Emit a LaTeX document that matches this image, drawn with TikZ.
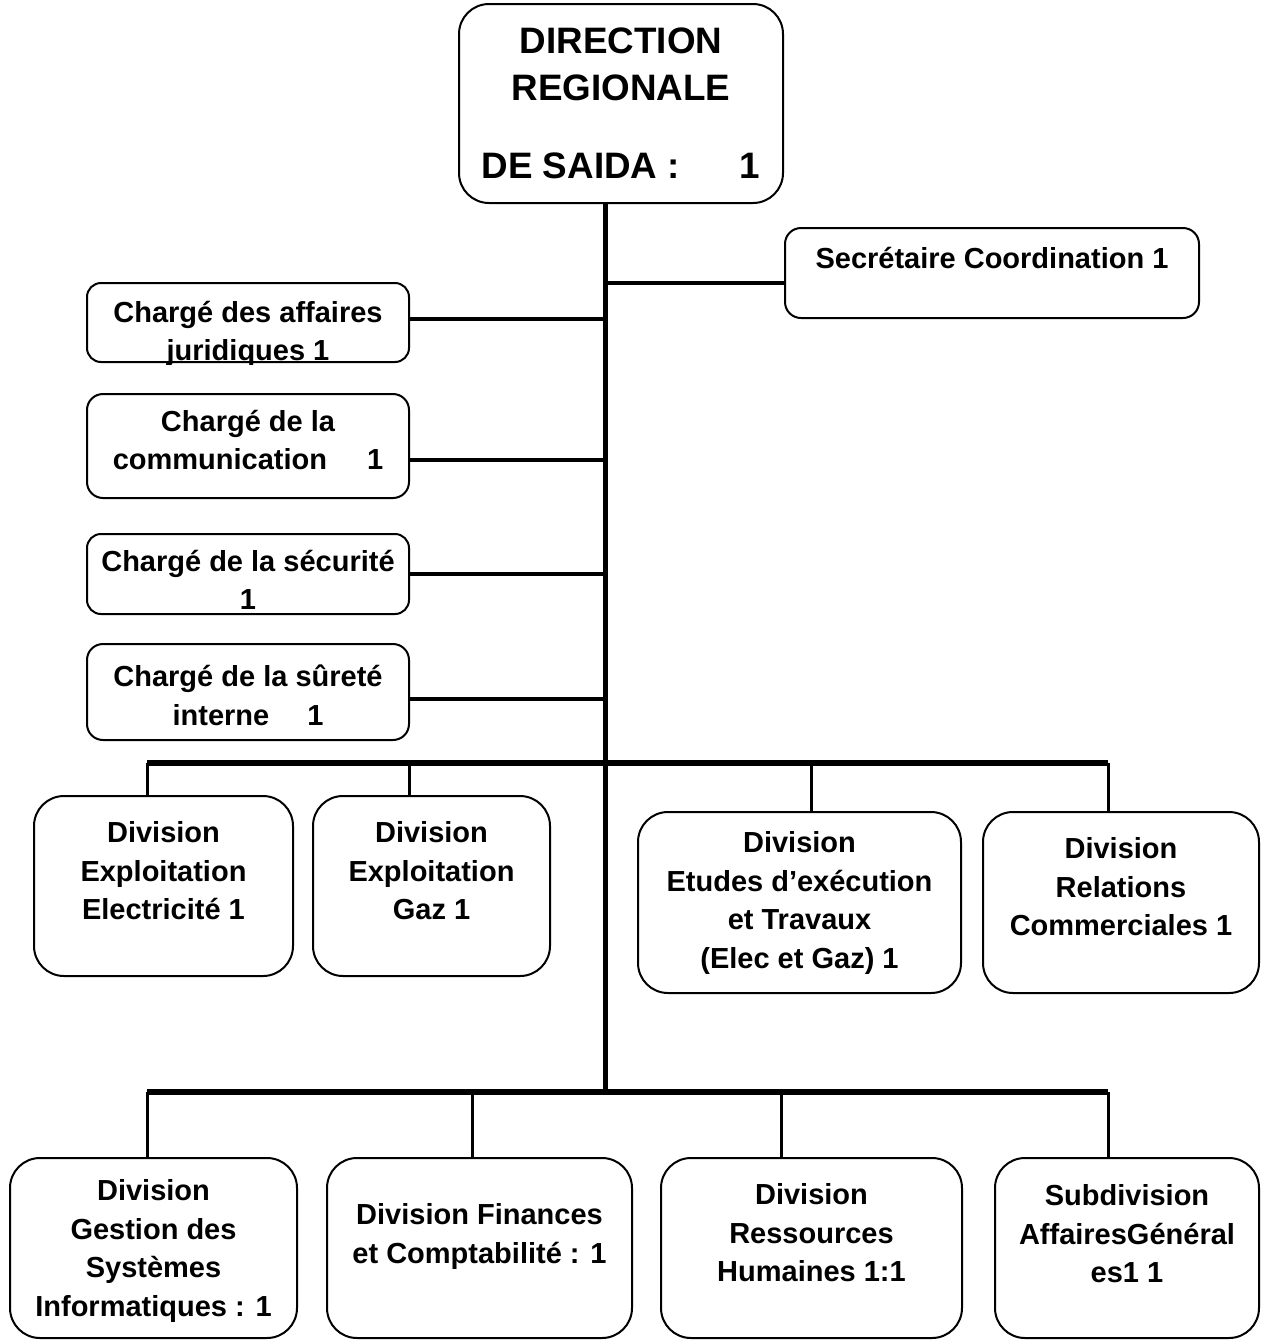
\documentclass[tikz,border=0pt]{standalone}
\usepackage{fontspec}
\setmainfont{Liberation Sans}
\begin{document}
\begin{tikzpicture}[x=0.5pt,y=-0.5pt,
  box/.style={draw, line width=1pt, rounded corners=#1, inner sep=0pt},
  box/.default=15pt,
  lbl/.style={font=\fontsize{14.5}{19.25}\selectfont\bfseries, align=center,
    inner sep=0pt, anchor=north, yshift=-3pt,
    execute at begin node=\strut, execute at end node=\strut},
  ttl/.style={font=\fontsize{18.4}{23.5}\selectfont\bfseries, align=center,
    inner sep=0pt, anchor=north, yshift=-3.5pt,
    execute at begin node=\strut, execute at end node=\strut},
  trunk/.style={line width=2.5pt},
  branch/.style={line width=2pt},
  bar/.style={line width=3pt},
  drop/.style={line width=1.5pt}]

\fill[white] (0,0) rectangle (1269,1340);
\useasboundingbox (0,0) rectangle (1269,1340);

% top of the chart
\node[box] (dir) at (621,103.5) [minimum width=162pt, minimum height=99.5pt] {};
\node[ttl] (tdir) at (621,20.3) {DIRECTION\\REGIONALE\\[15.5pt]DE SAIDA :\hspace{30pt}1};

% staff posts
\node[box=8pt] (sec) at (992,273) [minimum width=207pt, minimum height=45pt] {};
\node[lbl] (tsec) at (992,235.5) {Secrétaire Coordination 1};

\node[box=7pt] (jur) at (248,322.5) [minimum width=161pt, minimum height=39.5pt] {};
\begin{scope}
  \clip[rounded corners=7pt] ([shift={(0.5pt,-0.5pt)}]jur.south west) rectangle ([shift={(-0.5pt,0.5pt)}]jur.north east);
  \node[lbl] (tjur) at (248,294.5) {Chargé des affaires\\juridiques 1};
\end{scope}

\node[box=8pt] (com) at (248,446) [minimum width=161pt, minimum height=52pt] {};
\node[lbl] (tcom) at (248,403.5) {Chargé de la\\communication\hspace{20pt}1};

\node[box=7pt] (secu) at (248,574) [minimum width=161pt, minimum height=40pt] {};
\node[lbl] (tsecu) at (248,543.5) {Chargé de la sécurité\\1};

\node[box=8pt] (sur) at (248,692) [minimum width=161pt, minimum height=48pt] {};
\node[lbl] (tsur) at (248,658.5) {Chargé de la sûreté\\interne\hspace{19pt}1};

% first row of divisions
\node[box] (elec) at (163.5,886) [minimum width=129.5pt, minimum height=90pt] {};
\node[lbl] (telec) at (163.5,815.5) {Division\\Exploitation\\Electricité 1};

\node[box] (gaz) at (431.5,886) [minimum width=118.5pt, minimum height=90pt] {};
\node[lbl] (tgaz) at (431.5,815.5) {Division\\Exploitation\\Gaz 1};

\node[box] (etu) at (799.5,902.5) [minimum width=161.5pt, minimum height=90.5pt] {};
\node[lbl] (tetu) at (799.5,825.5) {Division\\Etudes d’exécution\\et Travaux\\(Elec et Gaz) 1};

\node[box] (rel) at (1121,902.5) [minimum width=138pt, minimum height=90.5pt] {};
\node[lbl] (trel) at (1121,831.5) {Division\\Relations\\Commerciales 1};

% second row of divisions
\node[box] (ges) at (153.5,1248) [minimum width=143.5pt, minimum height=90pt] {};
\node[lbl] (tges) at (153.5,1173.5) {Division\\Gestion des\\Systèmes\\Informatiques : 1};

\node[box] (fin) at (479.5,1248) [minimum width=152.5pt, minimum height=90pt] {};
\node[lbl] (tfin) at (479.5,1197.5) {Division Finances\\et Comptabilité : 1};

\node[box] (rh) at (811.5,1248) [minimum width=150.5pt, minimum height=90pt] {};
\node[lbl] (trh) at (811.5,1177.5) {Division\\Ressources\\Humaines 1:1};

\node[box] (sub) at (1127,1248) [minimum width=132pt, minimum height=90pt] {};
\node[lbl] (tsub) at (1127,1178.5) {Subdivision\\AffairesGénéral\\es1 1};

% junction points
\coordinate (t0) at ([xshift=-8pt]dir.south);
\coordinate (j1) at (605,763);
\coordinate (j2) at (605,1092);

% main trunk
\draw[trunk] (t0) -- (j2);

% staff branches
\draw[branch] ([yshift=-5pt]sec.west) -- ([yshift=-5pt]sec.west -| t0);
\draw[branch] ([yshift=2pt]jur.east) -- ([yshift=2pt]jur.east -| t0);
\draw[branch] ([yshift=-7pt]com.east) -- ([yshift=-7pt]com.east -| t0);
\draw[branch] (secu.east) -- (secu.east -| t0);
\draw[branch] ([yshift=-3.5pt]sur.east) -- ([yshift=-3.5pt]sur.east -| t0);

% first bus
\coordinate (a1) at ([xshift=-8.25pt]elec.north);
\coordinate (a2) at ([xshift=-11.25pt]gaz.north);
\coordinate (a3) at ([xshift=5.75pt]etu.north);
\coordinate (a4) at ([xshift=-6.5pt]rel.north);
\draw[bar] (a1 |- j1) -- (a4 |- j1);
\foreach \p in {a1,a2,a3,a4} \draw[drop] (\p) -- (\p |- j1);

% second bus
\coordinate (b1) at ([xshift=-3.25pt]ges.north);
\coordinate (b2) at ([xshift=-3.75pt]fin.north);
\coordinate (b3) at ([xshift=-15.25pt]rh.north);
\coordinate (b4) at ([xshift=-9.5pt]sub.north);
\draw[bar] (b1 |- j2) -- (b4 |- j2);
\foreach \p in {b1,b2,b3,b4} \draw[drop] (\p) -- (\p |- j2);

\end{tikzpicture}
\end{document}
